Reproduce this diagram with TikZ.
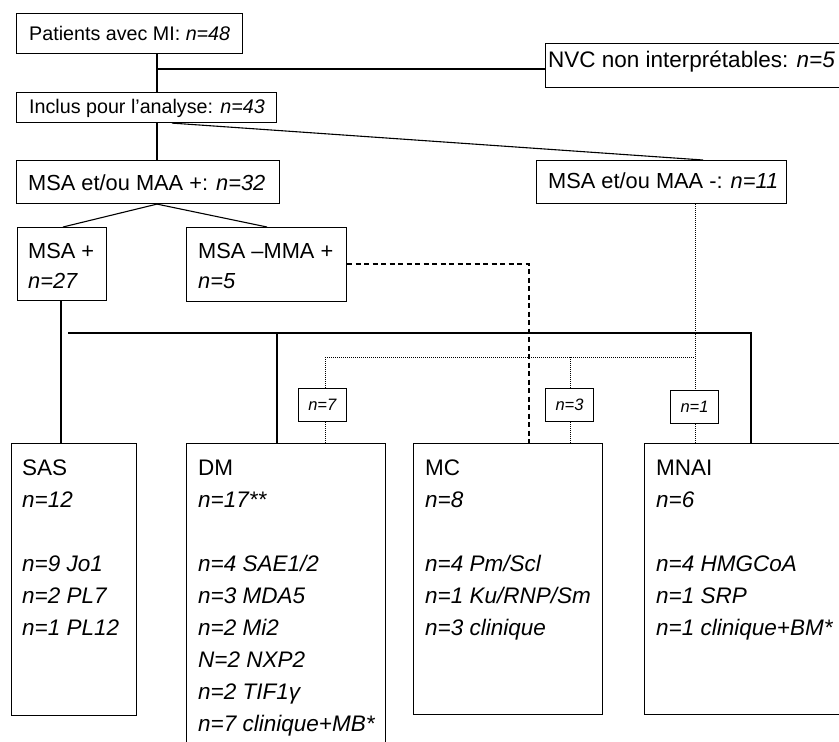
\documentclass[tikz,border=0pt]{standalone}
\usepackage{fontspec}
\setmainfont{Liberation Sans}
\newcommand\toplines[2]{\parbox[t]{#1}{\raggedright #2}}
\begin{document}
\begin{tikzpicture}[x=1pt,y=-1pt,
  box/.style={draw, line width=1.1pt, inner sep=0pt, anchor=north west},
  sbox/.style={draw, line width=1pt, inner sep=0pt, anchor=north west},
  txt/.style={inner sep=0pt, anchor=base west},
  ftop/.style={font=\fontsize{19.7pt}{24pt}\selectfont},
  fmid/.style={font=\fontsize{21.8pt}{30pt}\selectfont},
  fbig/.style={font=\fontsize{22.5pt}{32pt}\selectfont},
  fsmall/.style={font=\fontsize{16.5pt}{18pt}\selectfont},
  conn/.style={line width=1.1pt},
  dotline/.style={line width=1pt, dash pattern=on 1pt off 1pt},
  dashline/.style={line width=1.1pt, dash pattern=on 5pt off 3.5pt}]
\useasboundingbox (0,0) rectangle (839,742);
% top boxes
\node[box, minimum width=226pt, minimum height=40pt] (b1) at (16,13) {};
\node[txt, ftop] (t1) at (29,40) {Patients avec MI: \textit{n=48}};
\node[box, minimum width=320pt, minimum height=44pt] (nvc) at (545,43) {};
\node[txt, fbig] (tnvc) at (548,67) {NVC non interprétables: \textit{n=5}};
\node[box, minimum width=260pt, minimum height=30pt] (b2) at (16,92) {};
\node[txt, ftop] (t2) at (29,113) {Inclus pour l’analyse: \textit{n=43}};
\node[box, minimum width=263pt, minimum height=43pt] (b3) at (16,160) {};
\node[txt, fmid] (t3) at (28,190) {MSA et/ou MAA +: \textit{n=32}};
\node[box, minimum width=250pt, minimum height=43pt] (bneg) at (536,160) {};
\node[txt, fmid] (tneg) at (548,188) {MSA et/ou MAA -: \textit{n=11}};
% middle boxes
\node[box, minimum width=89pt, minimum height=73pt] (msap) at (17,227) {};
\node[txt, fmid] (tmsap) at (28,258) {\toplines{80pt}{MSA +\\\textit{n=27}}};
\node[box, minimum width=160pt, minimum height=74pt] (mmap) at (186,227) {};
\node[txt, fmid] (tmmap) at (198,258) {\toplines{150pt}{MSA –MMA +\\\textit{n=5}}};
% small count boxes
\node[sbox, minimum width=48pt, minimum height=33pt] (n7) at (298,388) {};
\node[fsmall, inner sep=0pt] (tn7) at (n7.center) {\textit{n=7}};
\node[sbox, minimum width=48pt, minimum height=33pt] (n3) at (545,388) {};
\node[fsmall, inner sep=0pt] (tn3) at (n3.center) {\textit{n=3}};
\node[sbox, minimum width=48pt, minimum height=33pt] (n1) at (670,390) {};
\node[fsmall, inner sep=0pt] (tn1) at (n1.center) {\textit{n=1}};
% bottom boxes
\node[box, minimum width=125pt, minimum height=272pt] (sas) at (11,443) {};
\node[txt, fbig] (tsas) at (22,475) {\toplines{110pt}{SAS\\\textit{n=12}\\[32pt]\textit{n=9 Jo1}\\\textit{n=2 PL7}\\\textit{n=1 PL12}}};
\node[box, minimum width=199pt, minimum height=320pt] (dm) at (186,443) {};
\node[txt, fbig] (tdm) at (198,475) {\toplines{190pt}{DM\\\textit{n=17**}\\[32pt]\textit{n=4 SAE1/2}\\\textit{n=3 MDA5}\\\textit{n=2 Mi2}\\\textit{N=2 NXP2}\\\textit{n=2 TIF1γ}\\\textit{n=7 clinique+MB*}}};
\node[box, minimum width=189pt, minimum height=271pt] (mc) at (413,443) {};
\node[txt, fbig] (tmc) at (425,475) {\toplines{180pt}{MC\\\textit{n=8}\\[32pt]\textit{n=4 Pm/Scl}\\\textit{n=1 Ku/RNP/Sm}\\\textit{n=3 clinique}}};
\node[box, minimum width=220pt, minimum height=271pt] (mnai) at (644,443) {};
\node[txt, fbig] (tmnai) at (656,475) {\toplines{200pt}{MNAI\\\textit{n=6}\\[32pt]\textit{n=4 HMGCoA}\\\textit{n=1 SRP}\\\textit{n=1 clinique+BM*}}};
% coordinates
\coordinate (xa) at (157,69);
\coordinate (xb) at (172,0);
\coordinate (xc) at (703,0);
\coordinate (xd) at (63,0);
\coordinate (xe) at (267,0);
\coordinate (xf) at (61,0);
\coordinate (h1) at (68,333);
\coordinate (h2) at (751,333);
\coordinate (h3) at (277,333);
\coordinate (d1) at (325,357);
\coordinate (d2) at (695,357);
\coordinate (d3) at (570,357);
\coordinate (e1) at (529,264);
% solid connectors
\draw[conn] (b1.south -| xa) -- (b2.north -| xa);
\draw[conn] (xa) -- (nvc.west |- xa);
\draw[conn] (b2.south -| xa) -- (b3.north -| xa);
\draw[conn] (b2.south -| xb) -- (bneg.north -| xc);
\draw[conn] (b3.south -| xa) -- (msap.north -| xd);
\draw[conn] (b3.south -| xa) -- (mmap.north -| xe);
\draw[conn] (msap.south -| xf) -- (sas.north -| xf);
\draw[conn] (h1) -- (h2) -- (mnai.north -| h2);
\draw[conn] (h3) -- (dm.north -| h3);
% dashed connector
\draw[dashline] (mmap.east |- e1) -- (e1) -- (mc.north -| e1);
% dotted connectors
\draw[dotline] (bneg.south -| d2) -- (n1.north -| d2);
\draw[dotline] (n1.south -| d2) -- (mnai.north -| d2);
\draw[dotline] (d1) -- (d2);
\draw[dotline] (d1) -- (n7.north -| d1);
\draw[dotline] (n7.south -| d1) -- (dm.north -| d1);
\draw[dotline] (d3) -- (n3.north -| d3);
\draw[dotline] (n3.south -| d3) -- (mc.north -| d3);
\end{tikzpicture}
\end{document}
